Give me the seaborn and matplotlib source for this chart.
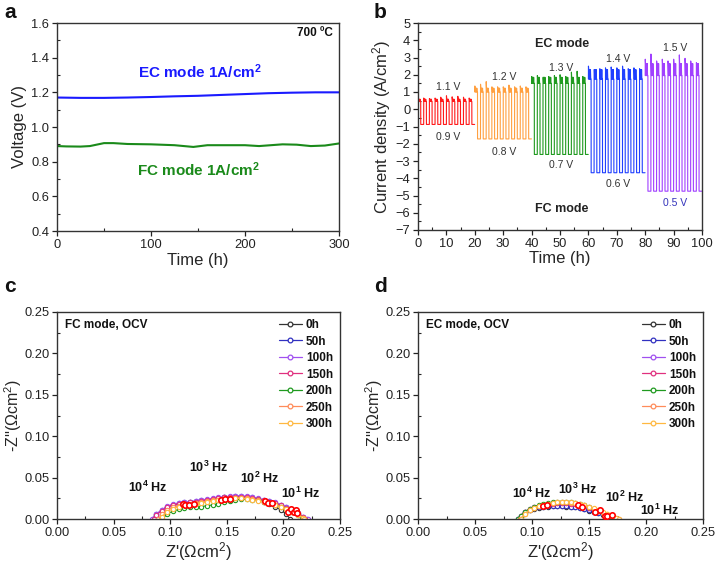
import numpy as np
import pandas as pd
import matplotlib
matplotlib.use("Agg")
import matplotlib.pyplot as plt
from matplotlib.lines import Line2D
from matplotlib.ticker import MultipleLocator, FormatStrFormatter
import seaborn as sns

# ---------------- data: panel a ----------------
a_ec_t = [0, 25, 50, 75, 100, 125, 150, 175, 200, 225, 250, 275, 300]
a_ec_v = [1.170, 1.168, 1.168, 1.170, 1.173, 1.177, 1.180, 1.185, 1.190, 1.195, 1.198, 1.200, 1.200]
a_fc_t = [0, 10, 25, 35, 50, 60, 75, 100, 125, 145, 160, 180, 200, 215, 240, 255, 270, 285, 300]
a_fc_v = [0.890, 0.888, 0.887, 0.890, 0.907, 0.907, 0.902, 0.900, 0.895, 0.885, 0.895, 0.895,
          0.895, 0.890, 0.900, 0.898, 0.890, 0.893, 0.905]

# ---------------- data: panel b ----------------
b_seg_start = [0, 20, 40, 60, 80]
b_ec_labels = ["1.1 V", "1.2 V", "1.3 V", "1.4 V", "1.5 V"]
b_fc_labels = ["0.9 V", "0.8 V", "0.7 V", "0.6 V", "0.5 V"]
b_ec_top = [0.58, 1.22, 1.85, 2.30, 2.65]
b_ec_base = [0.45, 1.00, 1.50, 1.75, 1.95]
b_fc_level = [-0.88, -1.72, -2.62, -3.68, -4.75]
b_ec_peaks = [
    [0.62, 0.65, 0.62, 0.65, 0.70, 0.78, 0.72, 0.75, 0.70, 0.65],
    [1.35, 1.45, 1.60, 1.30, 1.30, 1.30, 1.40, 1.30, 1.35, 1.30],
    [1.90, 1.95, 1.85, 1.90, 1.95, 2.00, 1.90, 2.15, 2.20, 1.90],
    [2.50, 2.30, 2.35, 2.40, 2.45, 2.40, 2.50, 2.35, 2.40, 2.35],
    [2.90, 3.20, 2.80, 2.90, 2.80, 2.90, 3.15, 2.95, 2.80, 2.70],
]
b_colors = ["#ff1a1a", "#ffa040", "#1f9a1f", "#2040ff", "#a040ff"]
b_ec_label_y = [1.29, 1.87, 2.39, 2.91, 3.55]
b_fc_label_y = [-1.58, -2.45, -3.26, -4.34, -5.45]

# ---------------- data: panels c & d (EIS) ----------------
series_names = ["0h", "50h", "100h", "150h", "200h", "250h", "300h"]
series_colors = ["#333333", "#3030c0", "#a050f0", "#e0307f", "#1f9a1f", "#ff8c5a", "#ffb840"]
nan = np.nan

c_grid = [0.0875, 0.0925, 0.0975, 0.1025, 0.1075, 0.1125, 0.1175, 0.1225, 0.1275, 0.1325,
          0.1375, 0.1425, 0.1475, 0.1525, 0.1575, 0.1625, 0.1675, 0.1725, 0.1775, 0.1825,
          0.1875, 0.1925, 0.1975, 0.2025, 0.2075, 0.2125, 0.2175]
c_start = [0.0850, 0.0845, 0.0840, 0.0855, 0.0930, 0.0895, 0.0920]
c_end = [0.2060, 0.2210, 0.2215, 0.2195, 0.2160, 0.2185, 0.2185]
c_zim = [
    [0.005, 0.010, 0.0145, 0.017, 0.0185, 0.0195, 0.020, 0.021, 0.022, 0.023, 0.024, 0.025, 0.026,
     0.0265, 0.027, 0.027, 0.026, 0.025, 0.023, 0.021, 0.018, 0.015, 0.011, 0.006, nan, nan, nan],
    [0.0055, 0.0105, 0.015, 0.0175, 0.019, 0.020, 0.0205, 0.0215, 0.0225, 0.0235, 0.0245, 0.0255,
     0.0265, 0.027, 0.0275, 0.0275, 0.027, 0.026, 0.0245, 0.023, 0.0215, 0.0195, 0.017, 0.014,
     0.0105, 0.007, 0.0025],
    [0.006, 0.011, 0.0155, 0.018, 0.0195, 0.0205, 0.021, 0.022, 0.023, 0.024, 0.025, 0.026, 0.027,
     0.0275, 0.028, 0.028, 0.0275, 0.0265, 0.025, 0.0235, 0.022, 0.020, 0.0175, 0.0145, 0.011,
     0.0075, 0.003],
    [0.005, 0.010, 0.0145, 0.017, 0.0185, 0.0195, 0.020, 0.021, 0.022, 0.023, 0.024, 0.025, 0.026,
     0.0265, 0.027, 0.027, 0.0265, 0.0255, 0.024, 0.0225, 0.021, 0.019, 0.0165, 0.0135, 0.010,
     0.0065, 0.002],
    [nan, nan, 0.006, 0.0095, 0.0115, 0.013, 0.014, 0.0145, 0.015, 0.016, 0.017, 0.0185, 0.020,
     0.022, 0.023, 0.024, 0.024, 0.0235, 0.0225, 0.021, 0.0195, 0.0175, 0.015, 0.012, 0.0085,
     0.0045, nan],
    [nan, 0.006, 0.011, 0.014, 0.016, 0.0175, 0.0185, 0.0195, 0.0205, 0.0215, 0.0225, 0.0235,
     0.0245, 0.025, 0.0255, 0.0255, 0.025, 0.024, 0.0225, 0.021, 0.0195, 0.0175, 0.015, 0.012,
     0.009, 0.0055, 0.0015],
    [nan, 0.003, 0.009, 0.0125, 0.015, 0.0165, 0.0175, 0.0185, 0.0195, 0.0205, 0.0215, 0.0225,
     0.0235, 0.0245, 0.025, 0.025, 0.0245, 0.0235, 0.022, 0.0205, 0.019, 0.017, 0.0145, 0.0115,
     0.0085, 0.005, 0.0015],
]
c_dec_x = [0.111, 0.113, 0.117, 0.121, 0.145, 0.148, 0.153, 0.184, 0.186, 0.190, 0.204, 0.207,
           0.209, 0.211, 0.212]
c_dec_y = [0.0185, 0.017, 0.0175, 0.018, 0.023, 0.0245, 0.024, 0.022, 0.019, 0.0195, 0.009,
           0.012, 0.0085, 0.011, 0.007]
hz_text = [r"10$^{\mathbf{4}}$ Hz", r"10$^{\mathbf{3}}$ Hz", r"10$^{\mathbf{2}}$ Hz", r"10$^{\mathbf{1}}$ Hz"]
c_hz_x = [0.080, 0.134, 0.179, 0.215]
c_hz_y = [0.0386, 0.0628, 0.0487, 0.0314]

d_grid = [0.090, 0.094, 0.098, 0.102, 0.106, 0.110, 0.114, 0.118, 0.122, 0.126, 0.130, 0.134,
          0.138, 0.142, 0.146, 0.150, 0.154, 0.158, 0.162, 0.166, 0.170, 0.174]
d_start = [0.0880, 0.0875, 0.0880, 0.0885, 0.0880, 0.0895, 0.0905]
d_end = [0.1715, 0.1730, 0.1745, 0.1748, 0.1745, 0.1760, 0.1765]
d_zim = [
    [0.003, 0.008, 0.0105, 0.0125, 0.0135, 0.0145, 0.015, 0.0155, 0.0155, 0.0155, 0.015, 0.0145,
     0.014, 0.013, 0.0115, 0.010, 0.0085, 0.0068, 0.005, 0.003, 0.001, nan],
    [0.004, 0.0085, 0.011, 0.013, 0.014, 0.015, 0.0155, 0.016, 0.016, 0.016, 0.0155, 0.015,
     0.0145, 0.0135, 0.012, 0.0105, 0.009, 0.0072, 0.0055, 0.0035, 0.0015, nan],
    [0.004, 0.0088, 0.012, 0.0145, 0.0162, 0.0175, 0.0183, 0.019, 0.0193, 0.0195, 0.0193, 0.0188,
     0.018, 0.017, 0.0155, 0.0138, 0.0118, 0.0095, 0.007, 0.0048, 0.0025, nan],
    [0.0035, 0.0085, 0.0118, 0.0142, 0.016, 0.0172, 0.018, 0.0187, 0.019, 0.0192, 0.019, 0.0185,
     0.0177, 0.0167, 0.0152, 0.0135, 0.0115, 0.0092, 0.0068, 0.0046, 0.0023, nan],
    [0.004, 0.009, 0.0125, 0.015, 0.017, 0.0185, 0.0195, 0.020, 0.0205, 0.021, 0.021, 0.0205,
     0.0195, 0.0185, 0.017, 0.015, 0.0125, 0.010, 0.0075, 0.005, 0.0025, nan],
    [nan, 0.0065, 0.0108, 0.0138, 0.016, 0.0175, 0.0186, 0.0195, 0.020, 0.0203, 0.0203, 0.0198,
     0.019, 0.018, 0.0165, 0.0147, 0.0125, 0.0102, 0.0078, 0.0055, 0.0032, 0.001],
    [nan, 0.006, 0.0105, 0.0135, 0.016, 0.0175, 0.0185, 0.0195, 0.020, 0.0205, 0.0205, 0.020,
     0.0195, 0.0185, 0.017, 0.015, 0.0128, 0.0105, 0.008, 0.0058, 0.0035, 0.001],
]
d_dec_x = [0.110, 0.113, 0.140, 0.1435, 0.155, 0.160, 0.164, 0.166, 0.170]
d_dec_y = [0.0155, 0.0170, 0.0173, 0.0150, 0.0085, 0.0105, 0.0035, 0.0040, 0.0045]
d_hz_x = [0.0994, 0.1397, 0.181, 0.212]
d_hz_y = [0.0314, 0.0354, 0.0266, 0.0100]

# ---------------- style ----------------
sns.set_theme(style="ticks")
plt.rcParams["font.family"] = ["Liberation Sans", "DejaVu Sans"]
plt.rcParams["mathtext.fontset"] = "custom"
plt.rcParams["mathtext.rm"] = "Liberation Sans"
plt.rcParams["mathtext.it"] = "Liberation Sans:italic"
plt.rcParams["mathtext.bf"] = "Liberation Sans:bold"
plt.rcParams["axes.edgecolor"] = "#333333"
plt.rcParams["axes.linewidth"] = 1.0

fig = plt.figure(figsize=(7.16, 5.64), dpi=100)
W, H = 716, 564


def add_ax(l, r, t, b):
    return fig.add_axes([l / W, 1 - b / H, (r - l) / W, (b - t) / H])


ax_a = add_ax(57, 339, 23, 231)
ax_b = add_ax(418, 702, 23, 230)
ax_c = add_ax(57, 340, 312, 519)
ax_d = add_ax(418, 703, 312, 519)


def style_axis(ax):
    ax.tick_params(which="major", direction="out", length=3.5, width=0.9, labelsize=9.3,
                   colors="#222222", top=False, right=False, pad=2)
    ax.tick_params(which="minor", direction="in", length=2.2, width=0.8, top=False, right=False)
    for s in ax.spines.values():
        s.set_visible(True)
        s.set_color("#333333")


# ---------------- panel a ----------------
sns.lineplot(x=a_ec_t, y=a_ec_v, ax=ax_a, color="#1a1aff", linewidth=1.5, estimator=None)
sns.lineplot(x=a_fc_t, y=a_fc_v, ax=ax_a, color="#1a8a1a", linewidth=1.5, estimator=None)
ax_a.set_xlim(0, 300)
ax_a.set_ylim(0.4, 1.6)
ax_a.xaxis.set_major_locator(MultipleLocator(100))
ax_a.xaxis.set_minor_locator(MultipleLocator(50))
ax_a.yaxis.set_major_locator(MultipleLocator(0.2))
ax_a.yaxis.set_minor_locator(MultipleLocator(0.1))
ax_a.yaxis.set_major_formatter(FormatStrFormatter("%.1f"))
ax_a.set_xlabel("Time (h)", fontsize=12, labelpad=2)
ax_a.set_ylabel("Voltage (V)", fontsize=12, labelpad=3)
style_axis(ax_a)
ax_a.text(152, 1.32, r"EC mode 1A/cm$^{\mathbf{2}}$", color="#1a1aff", fontsize=11,
          fontweight="bold", ha="center", va="center")
ax_a.text(150, 0.756, r"FC mode 1A/cm$^{\mathbf{2}}$", color="#1a8a1a", fontsize=11,
          fontweight="bold", ha="center", va="center")
ax_a.text(293, 1.542, "700 ºC", color="#111111", fontsize=8.5, fontweight="bold",
          ha="right", va="center")

# ---------------- panel b ----------------
for s in range(5):
    t_pts, j_pts = [], []
    t0 = b_seg_start[s]
    for k in range(10):
        tc = t0 + 2 * k
        t_pts += [tc, tc + 0.02]
        j_pts += [b_fc_level[s] if k > 0 else b_ec_base[s], b_ec_peaks[s][k]]
        # noisy EC plateau filling the band between base and top
        for m in range(8):
            t_pts.append(tc + 0.12 + 0.1 * m)
            j_pts.append(b_ec_top[s] if m % 2 == 0 else b_ec_base[s])
        t_pts += [tc + 0.95, tc + 0.97, tc + 1.95]
        j_pts += [b_ec_base[s], b_fc_level[s], b_fc_level[s]]
    df = pd.DataFrame({"t": t_pts, "j": j_pts})
    sns.lineplot(data=df, x="t", y="j", ax=ax_b, color=b_colors[s], linewidth=0.8,
                 sort=False, estimator=None)
    xc = t0 + 10.5
    ax_b.text(xc, b_ec_label_y[s], b_ec_labels[s], fontsize=7.5, color="#333333",
              ha="center", va="center")
    ax_b.text(xc, b_fc_label_y[s], b_fc_labels[s], fontsize=7.5,
              color="#3333bb" if s == 4 else "#333333", ha="center", va="center")
ax_b.set_xlim(0, 100)
ax_b.set_ylim(-7, 5)
ax_b.xaxis.set_major_locator(MultipleLocator(10))
ax_b.xaxis.set_minor_locator(MultipleLocator(5))
ax_b.yaxis.set_major_locator(MultipleLocator(1))
ax_b.yaxis.set_minor_locator(MultipleLocator(0.5))
ax_b.set_xlabel("Time (h)", fontsize=12, labelpad=1)
ax_b.set_ylabel(r"Current density (A/cm$^2$)", fontsize=12, labelpad=2)
style_axis(ax_b)
ax_b.text(50.6, 3.78, "EC mode", fontsize=9, fontweight="bold", color="#222222",
          ha="center", va="center")
ax_b.text(50.6, -5.77, "FC mode", fontsize=9, fontweight="bold", color="#222222",
          ha="center", va="center")


# ---------------- panels c & d ----------------
def eis_panel(ax, grid, starts, ends, zims, dec_x, dec_y, hz_x, hz_y, title):
    for i, name in enumerate(series_names):
        xs = [starts[i]] + [g for g, z in zip(grid, zims[i]) if not np.isnan(z)] + [ends[i]]
        ys = [0.0] + [z for z in zims[i] if not np.isnan(z)] + [0.0]
        sns.lineplot(x=xs, y=ys, ax=ax, color=series_colors[i], linewidth=0.8, sort=False,
                     estimator=None, marker="o", markersize=3.1, markerfacecolor="white",
                     markeredgecolor=series_colors[i], markeredgewidth=0.8)
    sns.scatterplot(x=dec_x, y=dec_y, ax=ax, s=15, facecolor="white", edgecolor="#ff0000",
                    linewidth=1.2, zorder=5)
    for txt, x, y in zip(hz_text, hz_x, hz_y):
        ax.text(x, y, txt, fontsize=9, fontweight="bold", color="#111111",
                ha="center", va="center")
    ax.text(0.0074, 0.2347, title, fontsize=8.5, fontweight="bold", color="#111111",
            ha="left", va="center")
    ax.set_xlim(0, 0.25)
    ax.set_ylim(0, 0.25)
    ax.xaxis.set_major_locator(MultipleLocator(0.05))
    ax.xaxis.set_minor_locator(MultipleLocator(0.025))
    ax.yaxis.set_major_locator(MultipleLocator(0.05))
    ax.yaxis.set_minor_locator(MultipleLocator(0.025))
    ax.xaxis.set_major_formatter(FormatStrFormatter("%.2f"))
    ax.yaxis.set_major_formatter(FormatStrFormatter("%.2f"))
    ax.set_xlabel(r"Z'($\Omega$cm$^2$)", fontsize=12, labelpad=1)
    ax.set_ylabel(r"-Z''($\Omega$cm$^2$)", fontsize=11.5, labelpad=0)
    style_axis(ax)
    handles = [Line2D([0], [0], color=series_colors[i], linewidth=0.9, marker="o",
                      markersize=3.4, markerfacecolor="white",
                      markeredgecolor=series_colors[i], markeredgewidth=0.9)
               for i in range(len(series_names))]
    leg = ax.legend(handles, series_names, loc="upper right", frameon=False,
                    prop={"weight": "bold", "size": 8.5}, handlelength=2.0,
                    handletextpad=0.3, labelspacing=0.38, borderaxespad=0.3, borderpad=0.3)
    for t in leg.get_texts():
        t.set_color("#111111")


eis_panel(ax_c, c_grid, c_start, c_end, c_zim, c_dec_x, c_dec_y, c_hz_x, c_hz_y, "FC mode, OCV")
eis_panel(ax_d, d_grid, d_start, d_end, d_zim, d_dec_x, d_dec_y, d_hz_x, d_hz_y, "EC mode, OCV")

# panel letters
for letter, x, y in [("a", 10, 13), ("b", 380, 13), ("c", 10, 287), ("d", 380, 287)]:
    fig.text(x / W, 1 - y / H, letter, fontsize=15, fontweight="bold", ha="center",
             va="center", color="#111111")

fig.savefig("out.png", dpi=100)
